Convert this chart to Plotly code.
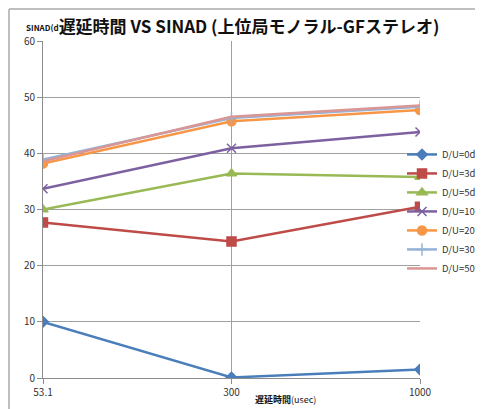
import plotly.graph_objects as go

# delay times (category axis)
delays = ["53.1", "300", "1000"]

du_0 = [10.0, 0.1, 1.5]
du_3 = [27.7, 24.3, 30.5]
du_5 = [30.0, 36.4, 35.8]
du_10 = [33.7, 40.9, 43.8]
du_20 = [38.2, 45.7, 47.7]
du_30 = [38.9, 46.3, 48.3]
du_50 = [38.6, 46.5, 48.5]

series = [
    ("D/U=0dB", du_0, "#4A7EBB", "diamond", 8),
    ("D/U=3dB", du_3, "#BE4B48", "square", 9),
    ("D/U=5dB", du_5, "#98B954", "triangle-up", 9),
    ("D/U=10dB", du_10, "#7D60A0", "x-thin", 9),
    ("D/U=20dB", du_20, "#F79646", "circle", 9),
    ("D/U=30dB", du_30, "#95B3D7", "cross-thin", 9),
    ("D/U=50dB", du_50, "#D99694", None, 0),
]

font = "Noto Sans CJK JP"

fig = go.Figure()
for name, vals, col, sym, sz in series:
    if sym:
        marker = dict(symbol=sym, size=sz, color=col, line=dict(color=col, width=1.5))
        mode = "lines+markers"
    else:
        marker = dict(color=col)
        mode = "lines"
    fig.add_trace(go.Scatter(x=delays, y=vals, name=name, mode=mode,
                             line=dict(color=col, width=2.5), marker=marker))

# the page puts the figure 8px in from the window corner, so size/margins are shifted
fig.update_layout(
    width=475, height=401,
    margin=dict(l=35, r=63, t=33, b=31, autoexpand=False),
    paper_bgcolor="white", plot_bgcolor="white",
    font=dict(family=font, size=10, color="#333333"),
    title=dict(text="<b>遅延時間 VS SINAD (上位局モノラル-GFステレオ)</b>",
               x=0.5074, xref="container", xanchor="center", y=0.9526, yanchor="middle",
               font=dict(size=17, color="#111111", family=font)),
    legend=dict(x=0.8295, xref="container", xanchor="left", y=0.671, yref="container",
                yanchor="top", font=dict(size=9.5, color="#333333"),
                itemwidth=30, bgcolor="rgba(0,0,0,0)"),
    xaxis=dict(type="category", range=[0, 2], showgrid=True, gridcolor="#A0A0A0",
               gridwidth=1, showline=True, linecolor="#8C8C8C", ticks="outside",
               ticklen=5, tickcolor="#8C8C8C", tickfont=dict(size=10), automargin=False),
    yaxis=dict(range=[0, 60], dtick=10, showgrid=True, gridcolor="#A0A0A0",
               gridwidth=1, showline=True, linecolor="#8C8C8C", ticks="outside",
               ticklen=5, tickcolor="#8C8C8C", tickfont=dict(size=10), zeroline=False,
               automargin=False),
    shapes=[
        dict(type="line", xref="paper", yref="paper", x0=-0.0902, x1=1.3, y0=1.095, y1=1.095,
             line=dict(color="#BFBFBF", width=2)),
        dict(type="line", xref="paper", yref="paper", x0=-0.0902, x1=-0.0902, y0=-0.2, y1=1.095,
             line=dict(color="#BFBFBF", width=2)),
    ],
    annotations=[
        dict(text="<b>SINAD(d</b>", xref="paper", yref="paper", x=-0.05, y=1.0386,
             xanchor="left", yanchor="middle", showarrow=False,
             font=dict(size=8, color="#111111")),
        dict(text="<b>遅延時間</b>(usec)", xref="paper", yref="paper", x=0.642, y=-0.065,
             xanchor="center", yanchor="middle", showarrow=False,
             font=dict(size=9, color="#111111")),
    ],
)

fig.write_html("out.html")
